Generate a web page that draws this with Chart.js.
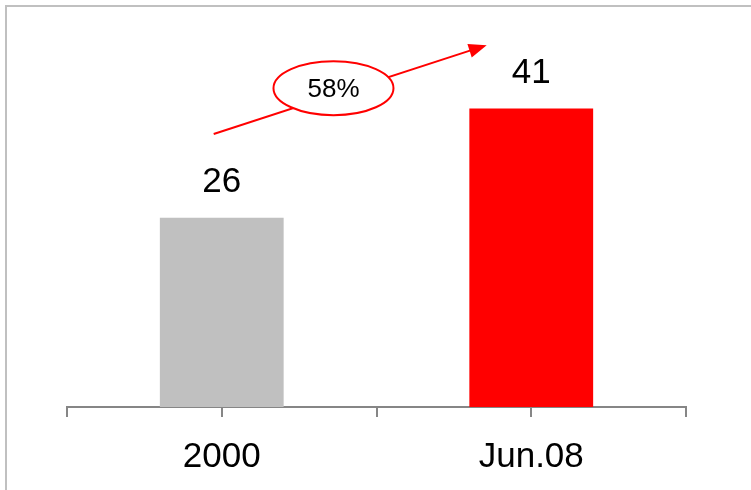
<!DOCTYPE html>
<html>
<head>
<meta charset="utf-8">
<script src="https://cdn.jsdelivr.net/npm/chart.js@4.4.1/dist/chart.umd.min.js"></script>
<style>
  html, body { margin: 0; padding: 0; background: #fff; overflow: hidden; }
  .frame {
    position: absolute; left: 5px; top: 5px; width: 800px; height: 600px;
    border-left: 2px solid #c0c0c0; border-top: 2px solid #c0c0c0;
  }
  .wrap { position: absolute; left: 0; top: 0; width: 751px; height: 490px; }
</style>
</head>
<body>
<div class="frame"></div>
<div class="wrap"><canvas id="chart" width="751" height="490"></canvas></div>
<script>
// Две точки: 2000 и июнь 2008, прирост считаем из самих значений.
const categories = ["2000", "Jun.08"];
const values = [26, 41];
const barColors = ["#c0c0c0", "#ff0000"];

const FONT = "'Liberation Sans', Arial, sans-serif";
const AXIS_COLOR = "#868686";

// Стрелка роста и овал с процентом, в координатах шкал (индекс категории, значение).
const growthArrow = { from: [-0.026, 37.5], to: [0.856, 49.7], badge: [0.361, 43.8] };

const growthPct = Math.round((values[1] - values[0]) / values[0] * 100);

// Значение над каждым столбцом.
const valueLabels = {
  id: "valueLabels",
  afterDatasetsDraw(chart) {
    const { ctx } = chart;
    const meta = chart.getDatasetMeta(0);
    ctx.save();
    ctx.font = `35px ${FONT}`;
    ctx.fillStyle = "#000";
    ctx.textAlign = "center";
    ctx.textBaseline = "alphabetic";
    meta.data.forEach((bar, i) => {
      ctx.fillText(String(values[i]), bar.x, bar.y - 26);
    });
    ctx.restore();
  },
};

// Засечки под центрами категорий (границы рисует сама сетка).
const centerTicks = {
  id: "centerTicks",
  afterDraw(chart) {
    const { ctx } = chart;
    const x = chart.scales.x;
    const y0 = chart.chartArea.bottom;
    ctx.save();
    ctx.strokeStyle = AXIS_COLOR;
    ctx.lineWidth = 2;
    categories.forEach((_, i) => {
      const px = Math.round(x.getPixelForValue(i));
      ctx.beginPath();
      ctx.moveTo(px, y0);
      ctx.lineTo(px, y0 + 10);
      ctx.stroke();
    });
    ctx.restore();
  },
};

const growthBadge = {
  id: "growthBadge",
  afterDraw(chart) {
    const { ctx } = chart;
    const xs = chart.scales.x, ys = chart.scales.y;
    const pt = ([a, b]) => [xs.getPixelForValue(a), ys.getPixelForValue(b)];
    const [x1, y1] = pt(growthArrow.from);
    const [x2, y2] = pt(growthArrow.to);
    const [cx, cy] = pt(growthArrow.badge);
    const ang = Math.atan2(y2 - y1, x2 - x1);
    const headLen = 18, headW = 7;

    ctx.save();
    ctx.strokeStyle = "#ff0000";
    ctx.fillStyle = "#ff0000";
    ctx.lineWidth = 2;
    ctx.beginPath();
    ctx.moveTo(x1, y1);
    ctx.lineTo(x2 - Math.cos(ang) * headLen * 0.8, y2 - Math.sin(ang) * headLen * 0.8);
    ctx.stroke();

    const bx = x2 - Math.cos(ang) * headLen, by = y2 - Math.sin(ang) * headLen;
    ctx.beginPath();
    ctx.moveTo(x2, y2);
    ctx.lineTo(bx + Math.sin(ang) * headW, by - Math.cos(ang) * headW);
    ctx.lineTo(bx - Math.sin(ang) * headW, by + Math.cos(ang) * headW);
    ctx.closePath();
    ctx.fill();

    ctx.beginPath();
    ctx.ellipse(cx, cy, 60, 27, 0, 0, Math.PI * 2);
    ctx.fillStyle = "#fff";
    ctx.fill();
    ctx.stroke();

    ctx.fillStyle = "#000";
    ctx.font = `26px ${FONT}`;
    ctx.textAlign = "center";
    ctx.textBaseline = "middle";
    ctx.fillText(`${growthPct}%`, cx, cy + 2);
    ctx.restore();
  },
};

new Chart(document.getElementById("chart"), {
  type: "bar",
  data: {
    labels: categories,
    datasets: [{
      data: values,
      backgroundColor: barColors,
      borderWidth: 0,
      barPercentage: 0.4,
      categoryPercentage: 1,
    }],
  },
  options: {
    responsive: false,
    animation: false,
    events: [],
    layout: { padding: { left: 67, right: 65, top: 43, bottom: 0 } },
    plugins: { legend: { display: false }, tooltip: { enabled: false } },
    scales: {
      x: {
        offset: true,
        grid: {
          display: true,
          offset: true,
          drawOnChartArea: false,
          drawTicks: true,
          tickLength: 10,
          color: AXIS_COLOR,
          lineWidth: 2,
        },
        border: { display: true, color: AXIS_COLOR, width: 2 },
        ticks: { color: "#000", font: { family: FONT, size: 35 }, padding: 19 },
        afterFit: (s) => { s.height = 83; },
      },
      y: { display: false, min: 0, max: 50 },
    },
  },
  plugins: [valueLabels, centerTicks, growthBadge],
});
</script>
</body>
</html>
